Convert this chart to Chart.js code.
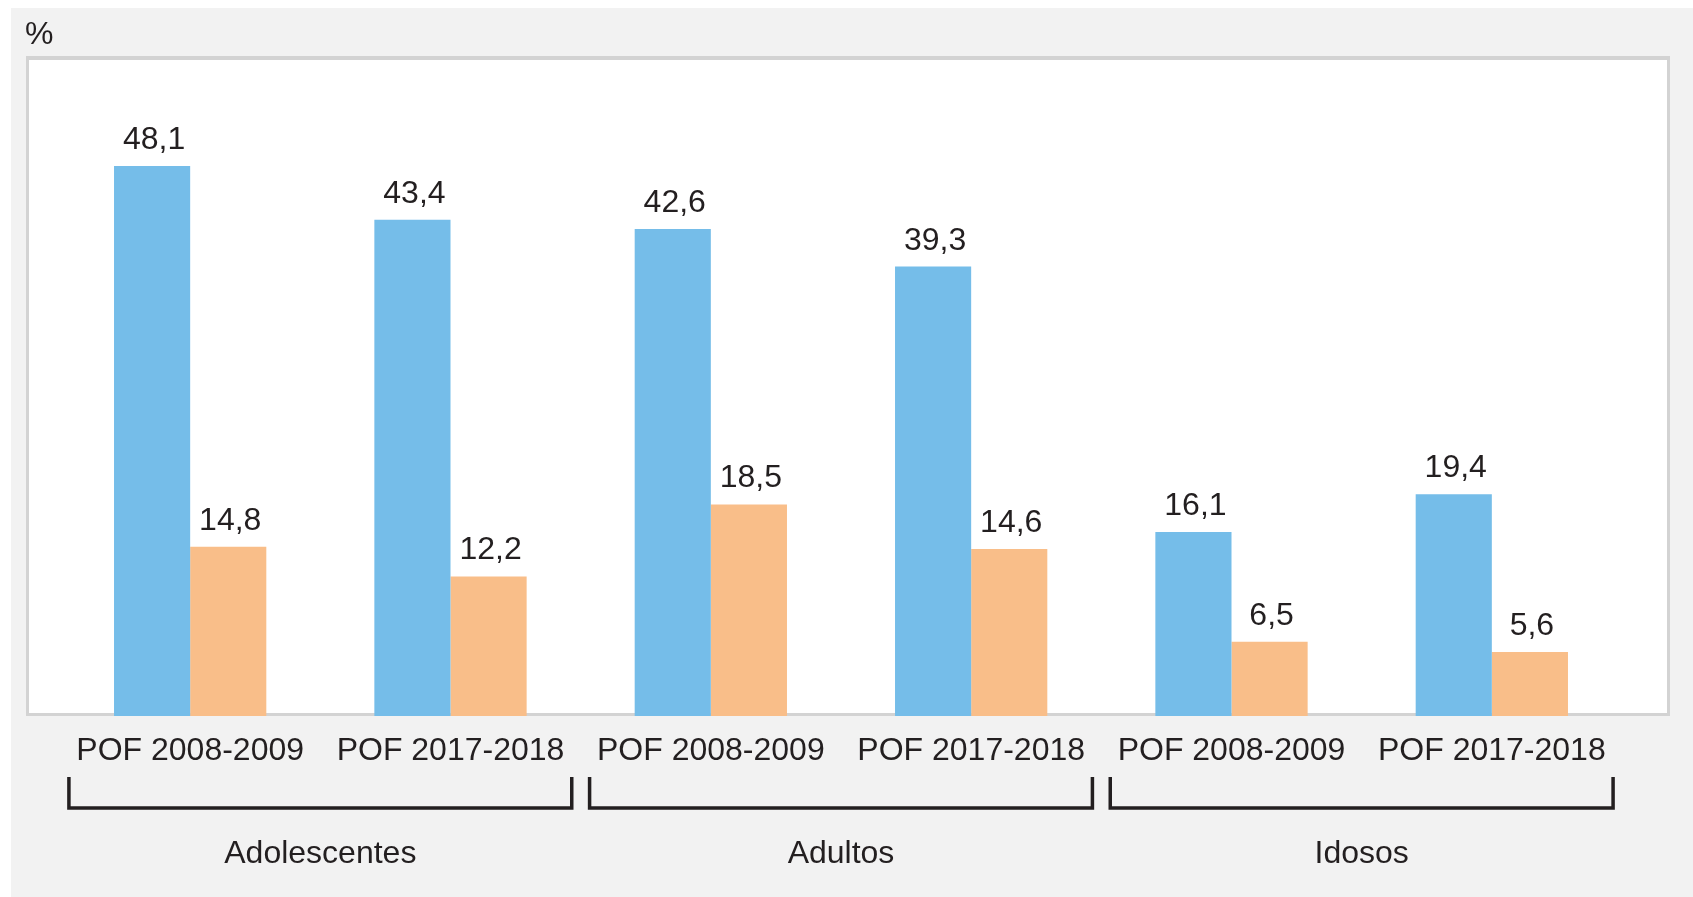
<!DOCTYPE html>
<html>
<head>
<meta charset="utf-8">
<script src="https://cdn.jsdelivr.net/npm/chart.js@4/dist/chart.umd.min.js"></script>
<style>
  html, body { margin: 0; padding: 0; background: #ffffff; }
  canvas { display: block; }
</style>
</head>
<body>
<canvas id="c" width="1693" height="897"></canvas>
<script>
// ---- data ----
const categories = ['POF 2008-2009', 'POF 2017-2018', 'POF 2008-2009', 'POF 2017-2018', 'POF 2008-2009', 'POF 2017-2018'];
const groupNames = ['Adolescentes', 'Adultos', 'Idosos'];
const groupSpans = [[0, 1], [2, 3], [4, 5]];
const blueValues = [48.1, 43.4, 42.6, 39.3, 16.1, 19.4];
const orangeValues = [14.8, 12.2, 18.5, 14.6, 6.5, 5.6];
const unitLabel = '%';

const FONT = '"Liberation Sans", Arial, sans-serif';
const TEXT = '#231f20';

const framePlugin = {
  id: 'frame',
  beforeDraw(chart) {
    const ctx = chart.ctx;
    ctx.save();
    ctx.fillStyle = '#ffffff';
    ctx.fillRect(0, 0, chart.width, chart.height);
    ctx.fillStyle = '#f2f2f2';
    ctx.fillRect(11, 8, chart.width - 11, chart.height - 8);
    // plot box
    ctx.fillStyle = '#d3d3d3';
    ctx.fillRect(26, 56, 1644, 660);
    ctx.fillStyle = '#ffffff';
    ctx.fillRect(29, 60, 1638, 653);
    // unit label
    ctx.fillStyle = TEXT;
    ctx.font = '32px ' + FONT;
    ctx.textAlign = 'left';
    ctx.textBaseline = 'alphabetic';
    ctx.fillText(unitLabel, 25, 44);
    ctx.restore();
  },
  afterDraw(chart) {
    const ctx = chart.ctx;
    const x = chart.scales.x;
    ctx.save();
    // value labels
    ctx.fillStyle = TEXT;
    ctx.font = '32px ' + FONT;
    ctx.textAlign = 'center';
    ctx.textBaseline = 'alphabetic';
    chart.data.datasets.forEach((ds, di) => {
      const meta = chart.getDatasetMeta(di);
      meta.data.forEach((bar, i) => {
        const txt = ds.data[i].toFixed(1).replace('.', ',');
        ctx.fillText(txt, bar.x + 2, bar.y - 17);
      });
    });
    // group brackets
    const half = 123;
    ctx.strokeStyle = TEXT;
    ctx.lineWidth = 3.5;
    ctx.lineJoin = 'miter';
    groupSpans.forEach((span, gi) => {
      const x0 = x.getPixelForValue(span[0]) - half + 1.75;
      const x1 = x.getPixelForValue(span[1]) + half - 1.75;
      ctx.beginPath();
      ctx.moveTo(x0, 777);
      ctx.lineTo(x0, 808);
      ctx.lineTo(x1, 808);
      ctx.lineTo(x1, 777);
      ctx.stroke();
      const cx = (x.getPixelForValue(span[0]) + x.getPixelForValue(span[1])) / 2;
      ctx.fillStyle = TEXT;
      ctx.font = '32px ' + FONT;
      ctx.textAlign = 'center';
      ctx.fillText(groupNames[gi], cx, 863);
    });
    ctx.restore();
  }
};

new Chart(document.getElementById('c'), {
  type: 'bar',
  data: {
    labels: categories,
    datasets: [
      { label: 'A', data: blueValues, backgroundColor: '#75bde9', borderWidth: 0 },
      { label: 'B', data: orangeValues, backgroundColor: '#f9be89', borderWidth: 0 }
    ]
  },
  plugins: [framePlugin],
  options: {
    responsive: false,
    animation: false,
    devicePixelRatio: 1,
    layout: { padding: { left: 60, right: 71, top: 60, bottom: 0 } },
    datasets: { bar: { categoryPercentage: 0.585, barPercentage: 1.0 } },
    plugins: { legend: { display: false }, tooltip: { enabled: false }, title: { display: false } },
    scales: {
      x: {
        offset: true,
        grid: { display: false, drawTicks: false },
        border: { display: false },
        ticks: { color: TEXT, font: { family: FONT, size: 32 }, padding: 16, maxRotation: 0, autoSkip: false },
        afterFit(scale) { scale.height = 181; }
      },
      y: {
        display: false,
        min: 0,
        max: 57.37
      }
    }
  }
});
</script>
</body>
</html>
